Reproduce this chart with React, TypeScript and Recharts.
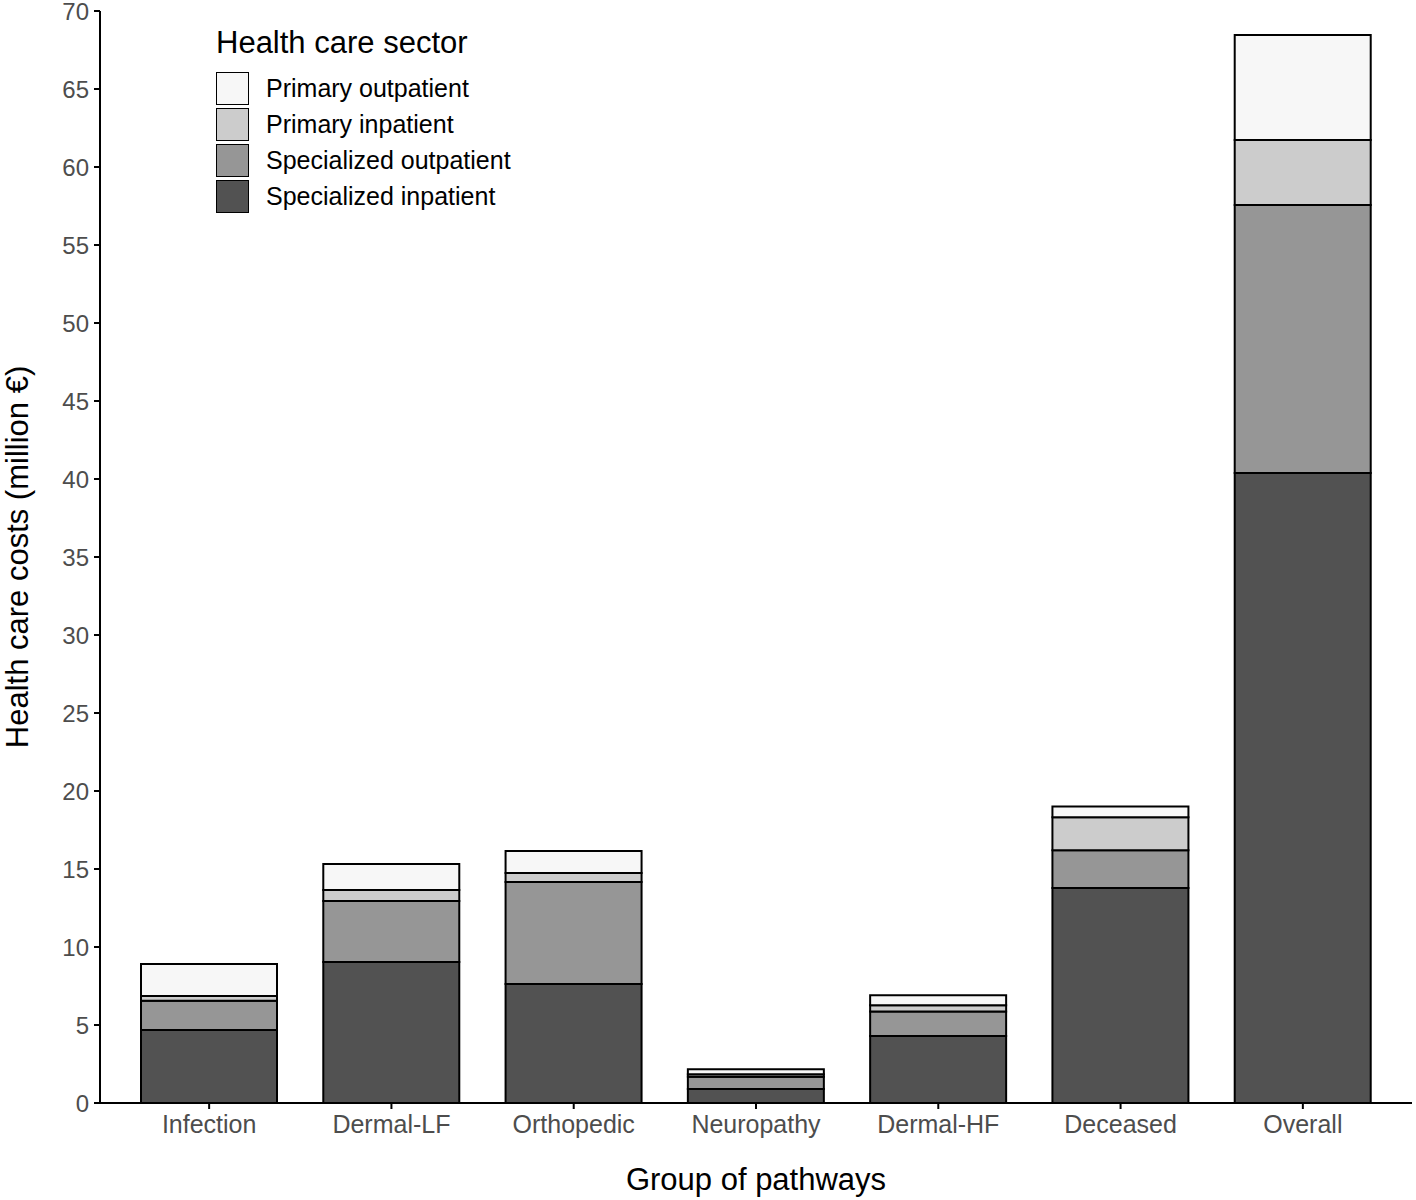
import React from 'react';
import { BarChart, Bar, XAxis, YAxis, Label } from 'recharts';

const categories = ['Infection', 'Dermal-LF', 'Orthopedic', 'Neuropathy', 'Dermal-HF', 'Deceased', 'Overall'];
const specializedInpatient = [4.68, 9.04, 7.63, 0.9, 4.29, 13.78, 40.38];
const specializedOutpatient = [1.88, 3.91, 6.54, 0.79, 1.57, 2.42, 17.18];
const primaryInpatient = [0.3, 0.7, 0.57, 0.15, 0.4, 2.11, 4.17];
const primaryOutpatient = [2.05, 1.67, 1.41, 0.32, 0.64, 0.69, 6.73];
const yTicks = [0, 5, 10, 15, 20, 25, 30, 35, 40, 45, 50, 55, 60, 65, 70];

const seriesKeys = ['specializedInpatient', 'specializedOutpatient', 'primaryInpatient', 'primaryOutpatient'];
const seriesNames = ['Specialized inpatient', 'Specialized outpatient', 'Primary inpatient', 'Primary outpatient'];
const seriesColors = ['#525252', '#969696', '#cccccc', '#f7f7f7'];
const legendTitle = 'Health care sector';

const data = categories.map((c, i) => ({
  category: c,
  specializedInpatient: specializedInpatient[i],
  specializedOutpatient: specializedOutpatient[i],
  primaryInpatient: primaryInpatient[i],
  primaryOutpatient: primaryOutpatient[i],
}));

const FONT = '"Liberation Sans", Arial, Helvetica, sans-serif';

const LegendBox = () => {
  const order = [3, 2, 1, 0];
  return (
    <div style={{ position: 'absolute', left: 216, top: 27, fontFamily: FONT, color: '#000' }}>
      <div style={{ position: 'absolute', left: 0, top: 0, fontSize: 31, lineHeight: '31px', whiteSpace: 'nowrap' }}>
        {legendTitle}
      </div>
      {order.map((idx, j) => (
        <div key={idx} style={{ position: 'absolute', left: 0, top: 44 + j * 36, height: 34, display: 'flex', alignItems: 'center', whiteSpace: 'nowrap' }}>
          <div style={{ width: 31, height: 31, background: seriesColors[idx], border: '1.5px solid #000', boxSizing: 'content-box' }} />
          <span style={{ marginLeft: 17, fontSize: 25 }}>{seriesNames[idx]}</span>
        </div>
      ))}
    </div>
  );
};

const YTitle = (props: any) => {
  const vb = props.viewBox || {};
  const cy = vb.y + vb.height / 2;
  const cx = 28;
  return (
    <text x={cx} y={cy} transform={`rotate(-90, ${cx}, ${cy})`} textAnchor="middle" fontSize={31} fill="#000" fontFamily={FONT}>
      Health care costs (million €)
    </text>
  );
};

const XTitle = (props: any) => {
  const vb = props.viewBox || {};
  const cx = vb.x + vb.width / 2;
  return (
    <text x={cx} y={1190} textAnchor="middle" fontSize={31} fill="#000" fontFamily={FONT}>
      Group of pathways
    </text>
  );
};

export default function App() {
  return (
    <div style={{ position: 'absolute', left: 0, top: 0, width: 1416, height: 1200, background: '#fff', fontFamily: FONT }}>
      <BarChart
        width={1416}
        height={1200}
        data={data}
        margin={{ top: 11, right: 4, bottom: 0, left: 0 }}
        style={{ fontFamily: FONT, overflow: 'visible' }}
      >
        <XAxis
          dataKey="category"
          height={97}
          padding={{ left: 18, right: 18 }}
          tick={{ fill: '#4d4d4d', fontSize: 25 }}
          tickSize={6}
          tickMargin={6}
          axisLine={{ stroke: '#000', strokeWidth: 2 }}
          tickLine={{ stroke: '#000', strokeWidth: 2 }}
          interval={0}
        >
          <Label content={<XTitle />} />
        </XAxis>
        <YAxis
          width={100}
          domain={[0, 70]}
          ticks={yTicks}
          interval={0}
          tick={{ fill: '#4d4d4d', fontSize: 24 }}
          tickSize={6}
          tickMargin={5}
          axisLine={{ stroke: '#000', strokeWidth: 2 }}
          tickLine={{ stroke: '#000', strokeWidth: 2 }}
          allowDataOverflow
        >
          <Label content={<YTitle />} />
        </YAxis>
        {seriesKeys.map((k, i) => (
          <Bar
            key={k}
            dataKey={k}
            name={seriesNames[i]}
            stackId="a"
            fill={seriesColors[i]}
            stroke="#000"
            strokeWidth={2}
            barSize={136}
            isAnimationActive={false}
          />
        ))}
      </BarChart>
      <LegendBox />
    </div>
  );
}
